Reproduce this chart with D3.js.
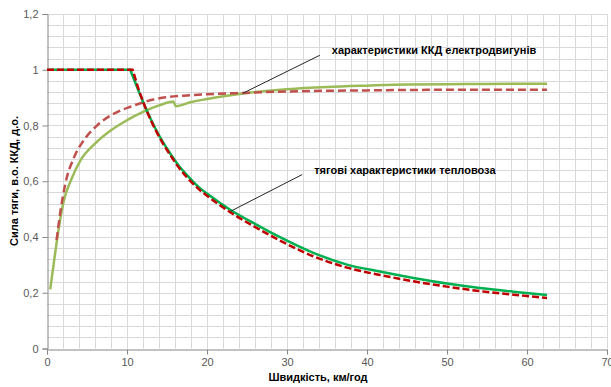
<!DOCTYPE html>
<html>
<head>
<meta charset="utf-8">
<script src="https://cdn.jsdelivr.net/npm/d3@7"></script>
<style>
  body { margin: 0; background: #fff; }
  text { font-family: 'Liberation Sans', Arial, sans-serif; }
</style>
</head>
<body>
<svg id="chart" width="611" height="387"></svg>
<script>
// speed, km/h -> value
const tractionGreen = [
  [0, 1], [10.4, 1], [11.5, 0.92], [12.5, 0.852], [13.5, 0.792], [14.5, 0.74],
  [15.5, 0.695], [16.5, 0.655], [17.5, 0.622], [19, 0.578], [20, 0.556],
  [23, 0.496], [26, 0.447], [29, 0.401], [33.3, 0.343], [37.5, 0.301],
  [41.6, 0.276], [45.8, 0.253], [50, 0.233], [54.1, 0.217], [58.3, 0.204], [62.5, 0.192]
];
const tractionRed = [
  [0, 1], [10.7, 1], [11.5, 0.925], [12.5, 0.85], [13.5, 0.788], [14.5, 0.735],
  [15.5, 0.69], [16.5, 0.648], [17.5, 0.614], [19, 0.571], [20, 0.548],
  [23, 0.487], [26, 0.436], [29, 0.389], [33.3, 0.331], [37.5, 0.29],
  [41.6, 0.264], [45.8, 0.241], [50, 0.222], [54.1, 0.206], [58.3, 0.193], [62.5, 0.181]
];
const efficiencyGreen = [
  [0.4, 0.212], [0.9, 0.317], [1.5, 0.437], [2.1, 0.53], [3, 0.604], [4.2, 0.676],
  [6, 0.735], [8, 0.783], [10, 0.819], [12, 0.849], [14, 0.872], [15.8, 0.886],
  [16.1, 0.869], [18, 0.884], [20, 0.895], [22.5, 0.907], [25, 0.917], [30, 0.93],
  [35, 0.938], [40, 0.943], [45, 0.947], [50, 0.948], [55, 0.949], [62.5, 0.95]
];
const efficiencyRed = [
  [1.2, 0.389], [1.7, 0.496], [2.3, 0.592], [3.4, 0.687], [4.6, 0.747], [6.3, 0.801],
  [8.4, 0.843], [10.5, 0.868], [13.3, 0.893], [17.5, 0.908], [20, 0.912],
  [24.5, 0.917], [30, 0.922], [40, 0.926], [50, 0.928], [62.5, 0.928]
];
const xTicks = [0, 10, 20, 30, 40, 50, 60, 70];
const yTicks = [0, 0.2, 0.4, 0.6, 0.8, 1, 1.2];
const xLabel = 'Швидкість, км/год';
const yLabel = 'Сила тяги, в.о. ККД, д.о.';
const notes = [
  { text: 'характеристики ККД електродвигунів', from: [34.1, 1.052], to: [24.5, 0.916] },
  { text: 'тягові характеристики тепловоза', from: [31.9, 0.624], to: [23, 0.493] }
];

const svg = d3.select('#chart');
const x = d3.scaleLinear().domain([0, 70]).range([47, 607]);
const y = d3.scaleLinear().domain([0, 1.2]).range([348.5, 14]);

// grid
const grid = svg.append('g').attr('stroke', '#d9d9d9').attr('stroke-width', 1);
grid.selectAll('line.v')
  .data(d3.range(2, 71, 2))
  .enter().append('line')
  .attr('x1', d => Math.round(x(d)) + 0.5).attr('x2', d => Math.round(x(d)) + 0.5)
  .attr('y1', y(0)).attr('y2', y(1.2));
grid.selectAll('line.h')
  .data(d3.range(1, 31).map(i => i * 0.04))
  .enter().append('line')
  .attr('y1', d => Math.round(y(d)) + 0.5).attr('y2', d => Math.round(y(d)) + 0.5)
  .attr('x1', x(0)).attr('x2', x(70));

// axes
const fmt = d => d3.format('.1f')(d).replace('.0', '').replace('.', ',');
const xAxis = svg.append('g')
  .attr('transform', `translate(0,${Math.round(y(0)) + 0.5})`)
  .call(d3.axisBottom(x).tickValues(xTicks).tickSize(5).tickPadding(4).tickFormat(d => d));
const yAxis = svg.append('g')
  .attr('transform', `translate(${Math.round(x(0)) + 0.5},0)`)
  .call(d3.axisLeft(y).tickValues(yTicks).tickSize(5).tickPadding(4).tickFormat(fmt));
[xAxis, yAxis].forEach(a => {
  a.select('.domain').attr('stroke', '#868686');
  a.selectAll('.tick line').attr('stroke', '#868686');
  a.selectAll('.tick text')
    .attr('fill', '#595959')
    .attr('font-size', '11px')
    .attr('font-family', "'Liberation Sans', Arial, sans-serif");
});

svg.append('text')
  .attr('x', 318).attr('y', 381)
  .attr('text-anchor', 'middle')
  .attr('font-size', '11px').attr('font-weight', 'bold')
  .text(xLabel);
svg.append('text')
  .attr('transform', 'translate(18,181) rotate(-90)')
  .attr('text-anchor', 'middle')
  .attr('font-size', '11px').attr('font-weight', 'bold')
  .text(yLabel);

// curves
const smooth = d3.line().x(d => x(d[0])).y(d => y(d[1])).curve(d3.curveMonotoneX);
const straight = d3.line().x(d => x(d[0])).y(d => y(d[1]));
// flat part and the corner stay sharp, the falling branch is smoothed
const traction = data => straight(data.slice(0, 3)) + smooth(data.slice(2)).replace(/^M/, 'L');

svg.append('path').attr('d', smooth(efficiencyGreen))
  .attr('fill', 'none').attr('stroke', '#9bbb59').attr('stroke-width', 2.5);
svg.append('path').attr('d', smooth(efficiencyRed))
  .attr('fill', 'none').attr('stroke', '#c0504d').attr('stroke-width', 2.5)
  .attr('stroke-dasharray', '8,4');
svg.append('path').attr('d', traction(tractionGreen))
  .attr('fill', 'none').attr('stroke', '#00b050').attr('stroke-width', 2.5)
  .attr('stroke-linejoin', 'round');
svg.append('path').attr('d', traction(tractionRed))
  .attr('fill', 'none').attr('stroke', '#c00000').attr('stroke-width', 2.5)
  .attr('stroke-dasharray', '7,3');

// annotations
notes.forEach(n => {
  svg.append('line')
    .attr('x1', x(n.from[0])).attr('y1', y(n.from[1]))
    .attr('x2', x(n.to[0])).attr('y2', y(n.to[1]))
    .attr('stroke', '#262626').attr('stroke-width', 1);
  svg.append('text')
    .attr('x', x(n.from[0]) + 12).attr('y', y(n.from[1]) - 1)
    .attr('font-size', '11px').attr('font-weight', 'bold')
    .attr('fill', '#000')
    .text(n.text);
});
</script>
</body>
</html>
